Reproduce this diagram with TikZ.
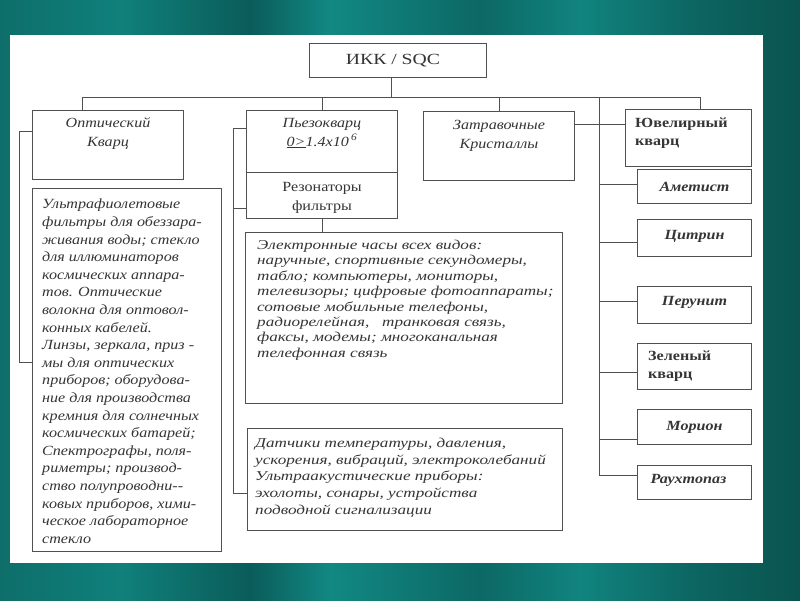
\documentclass[tikz,border=0pt]{standalone}
\usepackage{fontspec}
\setmainfont{Liberation Serif}[FakeStretch=1.15]
\newfontfamily\wideserif{Liberation Serif}[FakeStretch=1.27]
\definecolor{boxc}{HTML}{505050}
\definecolor{txtc}{HTML}{353535}
\definecolor{tA}{RGB}{14,110,106}
\definecolor{tB}{RGB}{16,128,123}
\definecolor{tC}{RGB}{10,92,89}
\definecolor{tD}{RGB}{18,136,131}
\definecolor{tE}{RGB}{12,104,100}
\definecolor{tF}{RGB}{17,132,127}
\definecolor{tG}{RGB}{12,100,96}
\definecolor{tH}{RGB}{10,84,80}
\begin{document}
\begin{tikzpicture}[x=1pt,y=-1pt,
  box/.style={draw=boxc, line width=1pt, fill=white, inner sep=0pt, anchor=north west},
  conn/.style={draw=boxc, line width=1pt},
  txt/.style={inner sep=0pt, text=txtc, align=left},
  lbl/.style={txt, font=\fontsize{14}{19}\selectfont\itshape, align=center},
  gem/.style={txt, font=\fontsize{14}{18}\selectfont\bfseries\itshape, align=center},
  gemup/.style={txt, font=\fontsize{14}{18}\selectfont\bfseries, align=left, anchor=west}]
\useasboundingbox (0,0) rectangle (800,600);
% background
\shade[left color=tA, right color=tB] (0,0) rectangle (120,600);
\shade[left color=tB, right color=tC] (120,0) rectangle (250,600);
\shade[left color=tC, right color=tD] (250,0) rectangle (330,600);
\shade[left color=tD, right color=tE] (330,0) rectangle (480,600);
\shade[left color=tE, right color=tF] (480,0) rectangle (580,600);
\shade[left color=tF, right color=tG] (580,0) rectangle (700,600);
\shade[left color=tG, right color=tH] (700,0) rectangle (800,600);
\fill[white] (10,35) rectangle (763,563);
% boxes
\node[box, minimum width=177pt, minimum height=34pt] (ikk) at (309,43) {};
\node[box, minimum width=151pt, minimum height=69pt] (opt) at (32,110) {};
\node[box, minimum width=189pt, minimum height=363pt] (big) at (32,188) {};
\node[box, minimum width=151pt, minimum height=62pt] (piezo) at (246,110) {};
\node[box, minimum width=151pt, minimum height=46pt] (rez) at (246,172) {};
\node[box, minimum width=317pt, minimum height=171pt] (elec) at (245,232) {};
\node[box, minimum width=315pt, minimum height=102pt] (dat) at (247,428) {};
\node[box, minimum width=151pt, minimum height=69pt] (zatr) at (423,111) {};
\node[box, minimum width=126pt, minimum height=57pt] (juv) at (625,109) {};
\node[box, minimum width=114pt, minimum height=34pt] (amet) at (637,169) {};
\node[box, minimum width=114pt, minimum height=37pt] (citr) at (637,219) {};
\node[box, minimum width=114pt, minimum height=37pt] (perun) at (637,286) {};
\node[box, minimum width=114pt, minimum height=46pt] (zel) at (637,343) {};
\node[box, minimum width=114pt, minimum height=35pt] (morion) at (637,409) {};
\node[box, minimum width=114pt, minimum height=34pt] (rauch) at (637,465) {};
% connector points
\coordinate (busL) at (82,97);
\coordinate (busR) at (700,97);
\coordinate (trT) at (599,97);
\coordinate (trB) at (599,475);
\coordinate (lt) at (19,131);
\coordinate (lb) at (19,362);
\coordinate (pt) at (233,128);
\coordinate (pm) at (233,208);
\coordinate (pb) at (233,493);
\coordinate (zj) at (574,124);
% connectors
\draw[conn] ([xshift=-6.5pt]ikk.south) -- ([xshift=-6.5pt]ikk.south |- busL);
\draw[conn] (busL) -- (busR);
\draw[conn] (busL) -- (busL |- opt.north);
\draw[conn] (piezo.north) -- (piezo.north |- busL);
\draw[conn] (zatr.north) -- (zatr.north |- busL);
\draw[conn] (busR) -- (busR |- juv.north);
\draw[conn] (trT) -- (trB);
\draw[conn] (zj) -- (zj -| juv.west);
\draw[conn] ([yshift=2pt]amet.west) -- ([yshift=2pt]amet.west -| trT);
\draw[conn] ([yshift=-4.5pt]citr.west) -- ([yshift=-4.5pt]citr.west -| trT);
\draw[conn] ([yshift=3.5pt]perun.west) -- ([yshift=3.5pt]perun.west -| trT);
\draw[conn] ([yshift=-6pt]zel.west) -- ([yshift=-6pt]zel.west -| trT);
\draw[conn] ([yshift=-12.5pt]morion.west) -- ([yshift=-12.5pt]morion.west -| trT);
\draw[conn] (trB) -- (trB -| rauch.west);
\draw[conn] (opt.west |- lt) -- (lt) -- (lb) -- (big.west |- lb);
\draw[conn] (piezo.west |- pt) -- (pt) -- (pb) -- (dat.west |- pb);
\draw[conn] (pm) -- (rez.west |- pm);
\draw[conn] (rez.south) -- (rez.south |- elec.north);
% texts
\node[txt, font=\fontsize{15.5}{18}\selectfont\wideserif] (ikkt) at ([xshift=-5pt]ikk.center) {ИКК / SQC};
\node[lbl] (optt) at ([yshift=-23.5pt]opt.north) {Оптический\\Кварц};
\node[lbl] (piezot) at ([yshift=-23pt]piezo.north) {Пьезокварц\\\underline{0>}1.4x10\,\textsuperscript{6}};
\node[txt, font=\fontsize{14}{19}\selectfont, align=center] (rezt) at ([yshift=-2.5pt]rez.center) {Резонаторы\\фильтры};
\node[lbl] (zatrt) at ([yshift=-24.5pt]zatr.north) {Затравочные\\Кристаллы};
\node[gemup] (juvt) at ([xshift=10pt,yshift=5pt]juv.west) {Ювелирный\\кварц};
\node[gem] (ametT) at (amet.center) {Аметист};
\node[gem] (citrT) at ([yshift=1.5pt]citr.center) {Цитрин};
\node[gem] (perunT) at ([yshift=2.5pt]perun.center) {Перунит};
\node[gemup] (zelT) at ([xshift=11pt]zel.west) {Зеленый\\кварц};
\node[gem] (morionT) at (morion.center) {Морион};
\node[gem] (rauchT) at ([xshift=-6pt,yshift=2pt]rauch.center) {Раухтопаз};
\node[txt, anchor=north west, font=\fontsize{14}{17.6}\selectfont\itshape] (bigt) at (42,199) {Ультрафиолетовые\\
фильтры для обеззара-\\
живания воды; стекло\\
для иллюминаторов\\
космических аппара-\\
тов. Оптические\\
волокна для оптовол-\\
конных кабелей.\\
Линзы, зеркала, приз -\\
мы для оптических\\
приборов; оборудова-\\
ние для производства\\
кремния для солнечных\\
космических батарей;\\
Спектрографы, поля-\\
риметры; производ-\\
ство полупроводни{-}{-}\\
ковых приборов, хими-\\
ческое лабораторное\\
стекло};
\node[txt, anchor=north west, font=\fontsize{13.5}{15.4}\selectfont\wideserif\itshape] (elect) at (257,240) {Электронные часы всех видов:\\
наручные, спортивные секундомеры,\\
табло; компьютеры, мониторы,\\
телевизоры; цифровые фотоаппараты;\\
сотовые мобильные телефоны,\\
радиорелейная,\ \ \ транковая связь,\\
факсы, модемы; многоканальная\\
телефонная связь};
\node[txt, anchor=north west, font=\fontsize{13.5}{16.7}\selectfont\wideserif\itshape] (datt) at (255,438) {Датчики температуры, давления,\\
ускорения, вибраций, электроколебаний\\
Ультраакустические приборы:\\
эхолоты, сонары, устройства\\
подводной сигнализации};
\end{tikzpicture}
\end{document}
